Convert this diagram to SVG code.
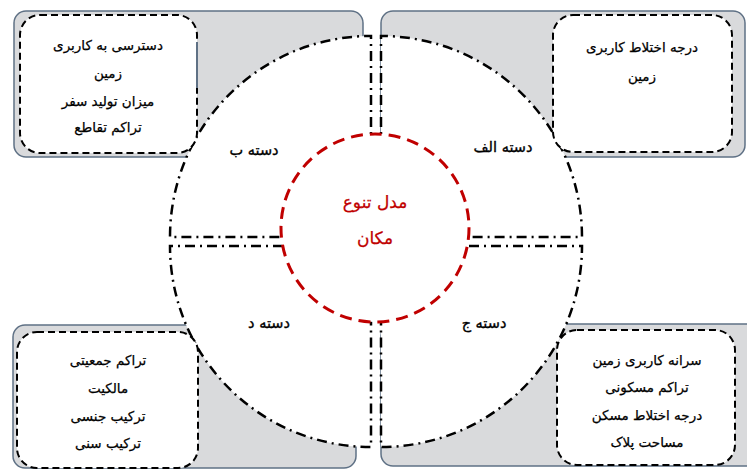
<svg xmlns="http://www.w3.org/2000/svg" width="747" height="470" viewBox="0 0 747 470">
<style>
.bg{fill:#d9dadc;stroke:#5f7185;stroke-width:1.5}
.pie{fill:#ffffff;stroke:#000;stroke-width:2.5;stroke-dasharray:10 5 2 5}
.box{fill:#ffffff;stroke:#000;stroke-width:2;stroke-dasharray:7 4}
.t{font-family:"DejaVu Sans",sans-serif;font-size:13.5px;fill:#000;stroke:#000;stroke-width:0.25;text-anchor:middle}
.q{font-family:"DejaVu Sans",sans-serif;font-size:14.5px;fill:#000;stroke:#000;stroke-width:0.35;text-anchor:middle}
.c{font-family:"DejaVu Sans",sans-serif;font-size:17px;fill:#c00000;stroke:#c00000;stroke-width:0.25;text-anchor:middle}
</style>
<rect width="747" height="470" fill="#ffffff"/>
<g id="backgrounds">
<rect class="bg" x="14" y="11" width="349" height="146" rx="12"/>
<rect class="bg" x="381" y="11" width="364" height="146" rx="12"/>
<rect class="bg" x="13" y="325" width="343" height="143" rx="12"/>
<rect class="bg" x="381" y="324" width="380" height="142" rx="12"/>
</g>
<g id="segments">
<g id="seg-alef"><path class="pie" d="M381,237 L381,36 A201,201 0 0 1 582,237 Z"/><text class="q" x="503" y="152">دسته الف</text></g>
<g id="seg-be"><path class="pie" d="M371,237 L371,36 A201,201 0 0 0 170,237 Z"/><text class="q" x="254" y="155">دسته ب</text></g>
<g id="seg-dal"><path class="pie" d="M371,246 L170,246 A201,201 0 0 0 371,447 Z"/><text class="q" x="269" y="328">دسته د</text></g>
<g id="seg-jim"><path class="pie" d="M381,246 L582,246 A201,201 0 0 1 381,447 Z"/><text class="q" x="484" y="328">دسته ج</text></g>
</g>
<g id="center">
<circle cx="375" cy="228" r="94" fill="#ffffff" stroke="#c00000" stroke-width="3" stroke-dasharray="12 7"/>
<text class="c" x="375" y="208">مدل تنوع</text>
<text class="c" x="375" y="244">مکان</text>
</g>
<g id="box-be">
<rect class="box" x="20" y="15" width="177" height="138" rx="20"/>
<line x1="197" y1="42" x2="197" y2="88" stroke="#5f7185" stroke-width="2"/>
<text class="t" x="108" y="50">دسترسی به کاربری</text>
<text class="t" x="108" y="78">زمین</text>
<text class="t" x="108" y="106">میزان تولید سفر</text>
<text class="t" x="108" y="132">تراکم تقاطع</text>
</g>
<g id="box-alef">
<rect class="box" x="553" y="15" width="179" height="137" rx="20"/>
<text class="t" x="642" y="52">درجه اختلاط کاربری</text>
<text class="t" x="642" y="81">زمین</text>
</g>
<g id="box-dal">
<rect class="box" x="17" y="332" width="181" height="136" rx="20"/>
<text class="t" x="108" y="365">تراکم جمعیتی</text>
<text class="t" x="108" y="393">مالکیت</text>
<text class="t" x="108" y="421">ترکیب جنسی</text>
<text class="t" x="108" y="448">ترکیب سنی</text>
</g>
<g id="box-jim">
<rect class="box" x="557" y="330" width="178" height="135" rx="20"/>
<text class="t" x="647" y="365">سرانه کاربری زمین</text>
<text class="t" x="647" y="392">تراکم مسکونی</text>
<text class="t" x="647" y="420">درجه اختلاط مسکن</text>
<text class="t" x="647" y="447">مساحت پلاک</text>
</g>
</svg>
